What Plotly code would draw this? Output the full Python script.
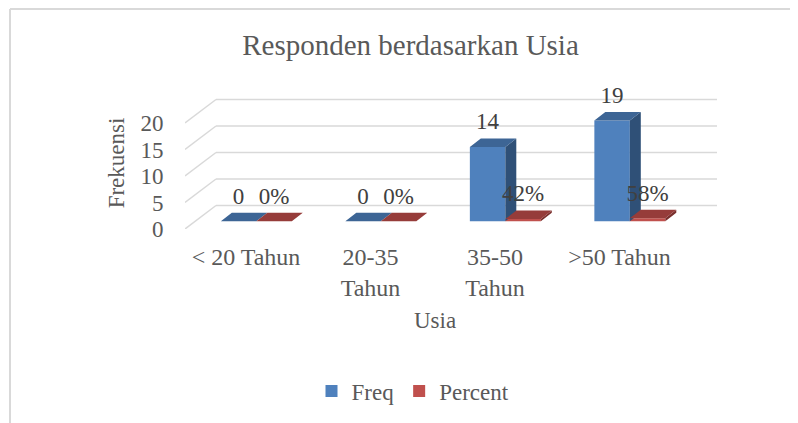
import plotly.graph_objects as go

# ---- data ----
categories = ["< 20 Tahun", "20-35<br>Tahun", "35-50<br>Tahun", ">50 Tahun"]
freq = [0, 0, 14, 19]
percent = [0.0, 0.0, 0.42, 0.58]
y_ticks = [0, 5, 10, 15, 20]

# ---- styling / pseudo-3D geometry (in axis units) ----
W = 0.285          # bar width
BX, BY = 0.083, 1.47   # bar front-face offset from front floor
DDX, DDY = 0.088, 1.6  # bar depth
WDX, WDY = 0.249, 4.43 # back-wall depth
XMIN, XMAX = -0.49, 3.783
YMAX = 24.9
FONT = "Liberation Serif"
AX_COL = "#595959"
LBL_COL = "#404040"
GRID = "#d9d9d9"

BLUE = dict(front="#4F81BD", top="#3D6595", side="#2F5077")
RED = dict(front="#C0504D", top="#963C3A", side="#7A2F2D")

fig = go.Figure()

# gridlines: back wall + left diagonals (drawn below all traces)
grid_shapes = []
for t in y_ticks:
    grid_shapes.append(dict(type="line", xref="x", yref="y", layer="below",
                            x0=XMIN + WDX, x1=XMAX, y0=t + WDY, y1=t + WDY,
                            line=dict(color=GRID, width=1.5)))
    grid_shapes.append(dict(type="line", xref="x", yref="y", layer="below",
                            x0=XMIN, x1=XMIN + WDX, y0=t, y1=t + WDY,
                            line=dict(color=GRID, width=1.5)))


def add_series(name, vals, shift, colors, labels):
    xs = [i + BX + shift for i in range(len(vals))]
    # front faces
    fig.add_trace(go.Bar(name=name, x=[i + BX for i in range(len(vals))], y=vals,
                         base=BY, width=W, offset=shift,
                         marker=dict(color=colors["front"], line=dict(width=0))))
    tx, ty, sx, sy = [], [], [], []
    for xl, v in zip(xs, vals):
        xr = xl + W
        top = BY + v
        tx += [xl, xr, xr + DDX, xl + DDX, xl, None]
        ty += [top, top, top + DDY, top + DDY, top, None]
        sx += [xr, xr, xr + DDX, xr + DDX, xr, None]
        sy += [BY, top, top + DDY, BY + DDY, BY, None]
    fig.add_trace(go.Scatter(x=sx, y=sy, mode="lines", fill="toself", fillcolor=colors["side"],
                             line=dict(width=0, color=colors["side"]), hoverinfo="skip", showlegend=False))
    fig.add_trace(go.Scatter(x=tx, y=ty, mode="lines", fill="toself", fillcolor=colors["top"],
                             line=dict(width=0, color=colors["top"]), hoverinfo="skip", showlegend=False))
    fig.add_trace(go.Scatter(x=[x + W / 2 for x in xs], y=[BY + v + 4.4 for v in vals],
                             mode="text", text=labels, textposition="middle center",
                             textfont=dict(family=FONT, size=23, color=LBL_COL),
                             cliponaxis=False, hoverinfo="skip", showlegend=False))


add_series("Freq", freq, -W, BLUE, [str(v) for v in freq])
add_series("Percent", percent, 0.0, RED, [f"{p:.0%}" for p in percent])

# page body has an 8px default margin; figure is sized to fit inside the window
OFF = 8
FW, FH = 798 - OFF, 423 - OFF
L, R, T, B = 185 - OFF, 81, 97 - OFF, 194
PH = FH - T - B
PW = FW - L - R

fig.update_layout(
    width=FW, height=FH, autosize=False,
    margin=dict(l=L, r=R, t=T, b=B, autoexpand=False),
    paper_bgcolor="white", plot_bgcolor="white",
    barmode="overlay",
    font=dict(family=FONT, color=AX_COL, size=23),
    title=dict(text="Responden berdasarkan Usia", x=(410.5 - OFF) / FW, xanchor="center",
               y=1 - (45 - OFF) / FH, yanchor="middle", yref="container",
               font=dict(family=FONT, size=29, color=AX_COL)),
    xaxis=dict(range=[XMIN, XMAX], tickmode="array", tickvals=list(range(len(categories))),
               ticktext=categories, showgrid=False, zeroline=False, showline=False,
               automargin=False,
               ticks="outside", ticklen=6, tickcolor="rgba(0,0,0,0)",
               tickfont=dict(family=FONT, size=24, color=AX_COL)),
    yaxis=dict(range=[0, YMAX], tickmode="array", tickvals=y_ticks, showgrid=False,
               zeroline=False, showline=False, ticks="outside", ticklen=16,
               automargin=False,
               tickcolor="rgba(0,0,0,0)", tickfont=dict(family=FONT, size=23, color=AX_COL),
               title=dict(text="Frekuensi", standoff=9, font=dict(family=FONT, size=23, color=AX_COL))),
    legend=dict(orientation="h", x=(413 - 185) / PW, xanchor="center", xref="paper",
                y=1 - (391 - OFF) / FH, yanchor="middle", yref="container", itemwidth=30,
                font=dict(family=FONT, size=23, color=AX_COL), traceorder="normal"),
    annotations=[dict(text="Usia", xref="paper", yref="paper", x=(435 - 185) / PW,
                      y=(229 - 320) / PH, xanchor="center", yanchor="middle",
                      showarrow=False, font=dict(family=FONT, size=23, color=AX_COL))],
    shapes=grid_shapes + [
        dict(type="line", xref="paper", yref="paper", x0=(10 - 185) / PW, x1=(798 - 185) / PW,
             y0=1 + (97 - 9) / PH, y1=1 + (97 - 9) / PH, line=dict(color=GRID, width=2)),
        dict(type="line", xref="paper", yref="paper", x0=(10 - 185) / PW, x1=(10 - 185) / PW,
             y0=1 + (97 - 9) / PH, y1=(229 - 423) / PH, line=dict(color=GRID, width=2)),
    ],
)

fig.write_html("out.html")
